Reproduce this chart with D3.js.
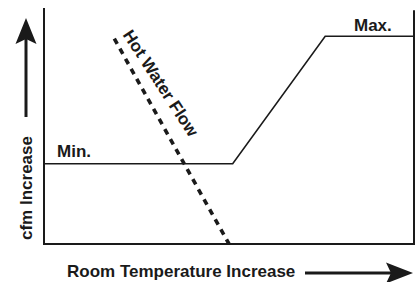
<!DOCTYPE html>
<html>
<head>
<meta charset="utf-8">
<script src="https://cdn.jsdelivr.net/npm/d3@7"></script>
<style>
  html, body { margin: 0; padding: 0; background: #fff; }
  svg text { font-family: "Liberation Sans", Arial, Helvetica, sans-serif; font-weight: bold; fill: #1a1a1a; }
</style>
</head>
<body>
<div id="chart"></div>
<script>
// ---------------- DATA ----------------
// room temperature (0-100 %) vs airflow (0-100 %)
const tempPoints = [0, 51, 76, 100];
const cfmValues  = [34, 34, 88, 88];

// hot water flow (reheat valve) falls off as temperature rises
const waterTemp  = [19, 50];
const waterFlow  = [87, 0];

const levelLabels = ["Min.", "Max."];
const xTitle = "Room Temperature Increase";
const yTitle = "cfm Increase";
const waterTitle = "Hot Water Flow";

// ---------------- SETUP ----------------
const width = 419, height = 282;
const margin = {top: 8, right: 5, bottom: 38, left: 44};
const ink = "#1a1a1a";

const svg = d3.select("#chart")
  .append("svg")
  .attr("width", width)
  .attr("height", height);

const x = d3.scaleLinear()
  .domain([0, 100])
  .range([margin.left, width - margin.right]);

const y = d3.scaleLinear()
  .domain([0, 100])
  .range([height - margin.bottom, margin.top]);

// open frame: left, bottom, right
svg.append("path")
  .attr("d", `M${x(0)},${y(100)} V${y(0)} H${x(100)} V${y(99)}`)
  .attr("fill", "none")
  .attr("stroke", ink)
  .attr("stroke-width", 2);

// cfm curve
const line = d3.line().x(d => x(d[0])).y(d => y(d[1]));
svg.append("path")
  .datum(d3.zip(tempPoints, cfmValues))
  .attr("d", line)
  .attr("fill", "none")
  .attr("stroke", ink)
  .attr("stroke-width", 1.6);

// hot water flow, dashed
svg.append("path")
  .datum(d3.zip(waterTemp, waterFlow))
  .attr("d", line)
  .attr("fill", "none")
  .attr("stroke", ink)
  .attr("stroke-width", 3.6)
  .attr("stroke-dasharray", "6,5.5");

// level labels
svg.append("text")
  .attr("x", x(tempPoints[0]) + 13)
  .attr("y", y(cfmValues[0]) - 7)
  .style("font-size", "17px")
  .text(levelLabels[0]);

svg.append("text")
  .attr("x", x(100) - 60)
  .attr("y", y(cfmValues[3]) - 5)
  .style("font-size", "17px")
  .text(levelLabels[1]);

// label along the dashed line
const wx = x(waterTemp[0]) + 8, wy = y(waterFlow[0]) - 4;
svg.append("text")
  .attr("transform", `translate(${wx},${wy}) rotate(57)`)
  .style("font-size", "17px")
  .text(waterTitle);

// axis titles
svg.append("text")
  .attr("transform", `translate(32,${y(0) - 4}) rotate(-90)`)
  .style("font-size", "17px")
  .text(yTitle);

svg.append("text")
  .attr("x", 67)
  .attr("y", 277)
  .style("font-size", "17px")
  .text(xTitle);

// arrows
svg.append("line")
  .attr("x1", 26).attr("y1", 117)
  .attr("x2", 26).attr("y2", 38)
  .attr("stroke", ink).attr("stroke-width", 3);
svg.append("path")
  .attr("d", "M26,18 L36.5,44 L26,39 L15.5,44 Z")
  .attr("fill", ink);

svg.append("line")
  .attr("x1", 305).attr("y1", 273)
  .attr("x2", 392).attr("y2", 273)
  .attr("stroke", ink).attr("stroke-width", 3);
svg.append("path")
  .attr("d", "M413,273 L386,262.5 L391,273 L386,283.5 Z")
  .attr("fill", ink);
</script>
</body>
</html>
